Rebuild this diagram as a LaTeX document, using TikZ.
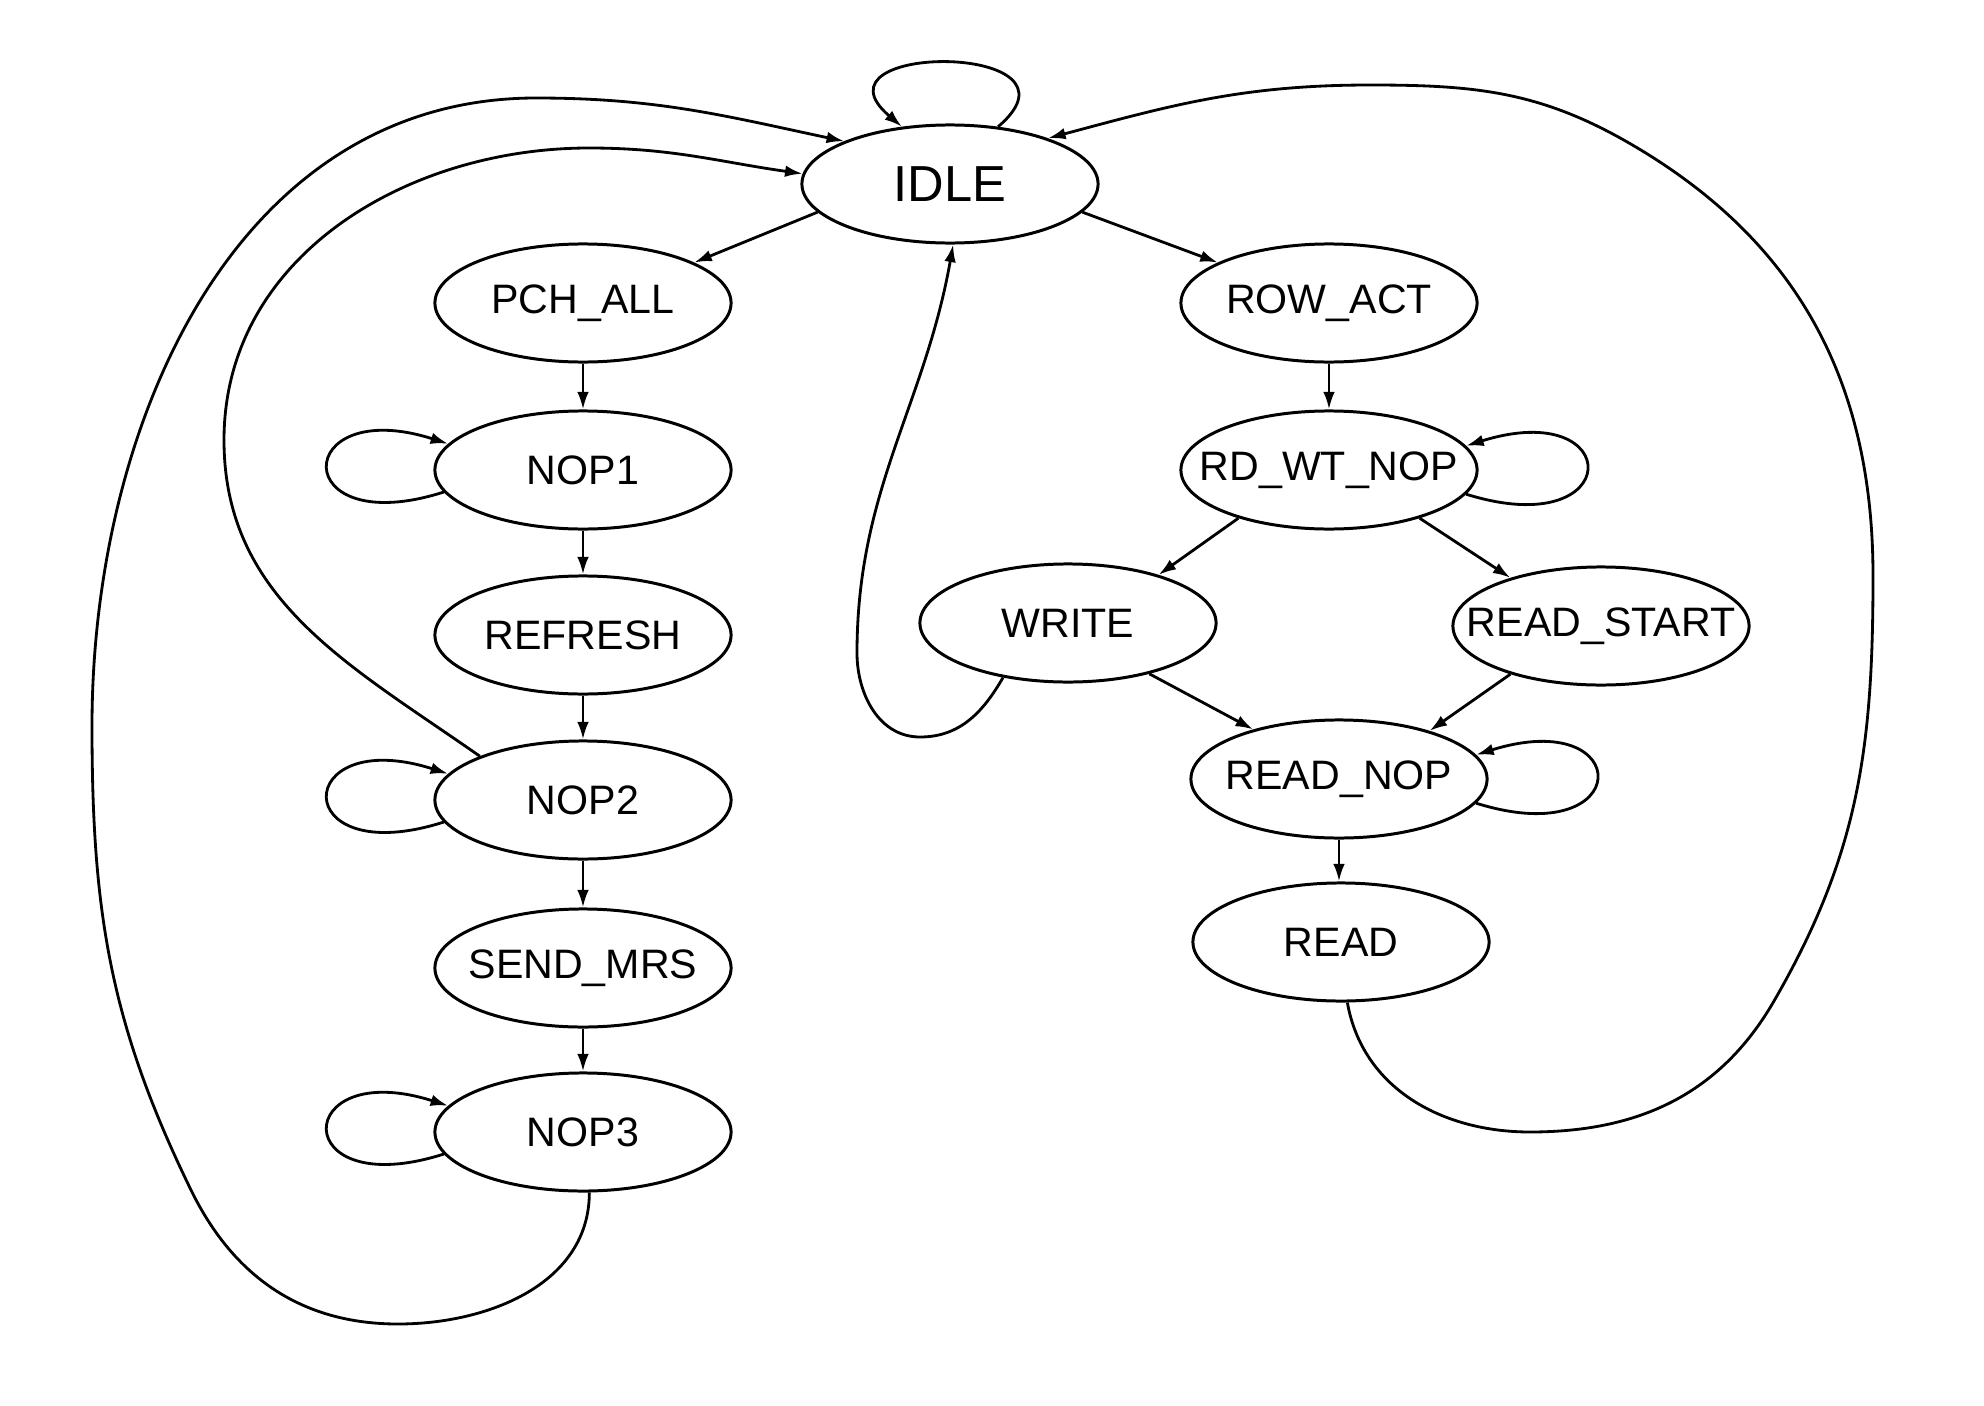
\documentclass[tikz,border=0pt]{standalone}
\usepackage{fontspec}
\setmainfont{Liberation Sans}
\usetikzlibrary{shapes.geometric,arrows.meta}
\newcommand{\stlbl}[1]{\makebox[0pt]{#1}}
\begin{document}
\begin{tikzpicture}[x=0.01cm,y=0.01cm,
  state/.style={ellipse, draw, line width=0.85pt, minimum width=2.96cm, minimum height=1.18cm,
    inner sep=0pt, font=\fontsize{11.7}{14}\selectfont},
  bigstate/.style={state, font=\fontsize{14.4}{17}\selectfont},
  edge/.style={line width=0.8pt, -{Latex[length=5pt,width=3.3pt]}}]
\useasboundingbox (0,0) rectangle (1984,-1406);
\fill[white] (0,0) rectangle (1984,-1406);

% states
\node[bigstate] (idle) at (950,-184) {\stlbl{IDLE}};
\node[state] (pch) at (583,-303) {\stlbl{PCH\_ALL}};
\node[state] (nop1) at (583,-470) {\stlbl{NOP1}};
\node[state] (refresh) at (583,-635) {\stlbl{REFRESH}};
\node[state] (nop2) at (583,-800) {\stlbl{NOP2}};
\node[state] (sendmrs) at (583,-968) {\stlbl{SEND\_MRS}};
\node[state] (nop3) at (583,-1132) {\stlbl{NOP3}};
\node[state] (rowact) at (1329,-303) {\stlbl{ROW\_ACT}};
\node[state] (rdwt) at (1329,-470) {\stlbl{RD\_WT\_NOP}};
\node[state] (write) at (1068,-623) {\stlbl{WRITE}};
\node[state] (rstart) at (1601,-626) {\stlbl{READ\_START}};
\node[state] (rnop) at (1339,-779) {\stlbl{READ\_NOP}};
\node[state] (read) at (1341,-942) {\stlbl{READ}};

% straight edges
\draw[edge] (idle.192) -- (pch.20);
\draw[edge] (idle.-12) -- (rowact.160);
\draw[edge] (pch) -- (nop1);
\draw[edge] (nop1) -- (refresh);
\draw[edge] (refresh) -- (nop2);
\draw[edge] (nop2) -- (sendmrs);
\draw[edge] (sendmrs) -- (nop3);
\draw[edge] (rowact) -- (rdwt);
\draw[edge] (rdwt.208) -- (write.28);
\draw[edge] (rdwt.-28) -- (rstart.152);
\draw[edge] (write.-32) -- (rnop.150);
\draw[edge] (rstart.208) -- (rnop.28);
\draw[edge] (rnop.south) -- (rnop.south |- read.north);

% self loops
\draw[edge] (idle.50) .. controls +(100,85) and +(-100,85) .. (idle.130);
\draw[edge] (nop1.189) .. controls +(-157,-50) and +(-157,50) .. (nop1.169);
\draw[edge] (nop2.189) .. controls +(-157,-50) and +(-157,50) .. (nop2.169);
\draw[edge] (nop3.189) .. controls +(-157,-50) and +(-157,50) .. (nop3.169);
\draw[edge] (rdwt.-10) .. controls +(160,-50) and +(160,50) .. (rdwt.10);
\draw[edge] (rnop.-10) .. controls +(160,-50) and +(160,50) .. (rnop.10);

% WRITE -> IDLE
\coordinate (w1) at (920,-737);
\coordinate (w2) at (857,-653);
\draw[edge] (write.220) to[out=-120,in=0] (w1) to[out=180,in=-90] (w2)
  to[out=90,in=-100] (idle.273);

% NOP2 -> IDLE
\coordinate (a1) at (224,-440);
\coordinate (a3) at (589,-148);
\draw[edge] (nop2.157) to[out=145,in=-90] (a1) to[out=90,in=180] (a3)
  to[out=0,in=172] (idle.176);

% NOP3 -> IDLE
\coordinate (b1) at (398,-1324);
\coordinate (b2) at (191,-1190);
\coordinate (b3) at (92,-726);
\coordinate (b5) at (536,-98);
\draw[edge] (nop3.276) to[out=-90,in=0] (b1) to[out=180,in=-64] (b2)
  to[out=116,in=-90] (b3) to[out=90,in=180] (b5)
  to[out=0,in=168] (idle.158);

% READ -> IDLE
\coordinate (c1) at (1530,-1132);
\coordinate (c2) at (1774,-1001);
\coordinate (c3) at (1873,-576);
\coordinate (c4) at (1629,-143);
\coordinate (c5) at (1370,-85);
\draw[edge] (read.276) to[out=-80,in=180] (c1) to[out=0,in=240] (c2)
  to[out=60,in=-90] (c3) to[out=90,in=-30] (c4) to[out=150,in=0] (c5)
  to[out=180,in=15] (idle.25);
\end{tikzpicture}
\end{document}
